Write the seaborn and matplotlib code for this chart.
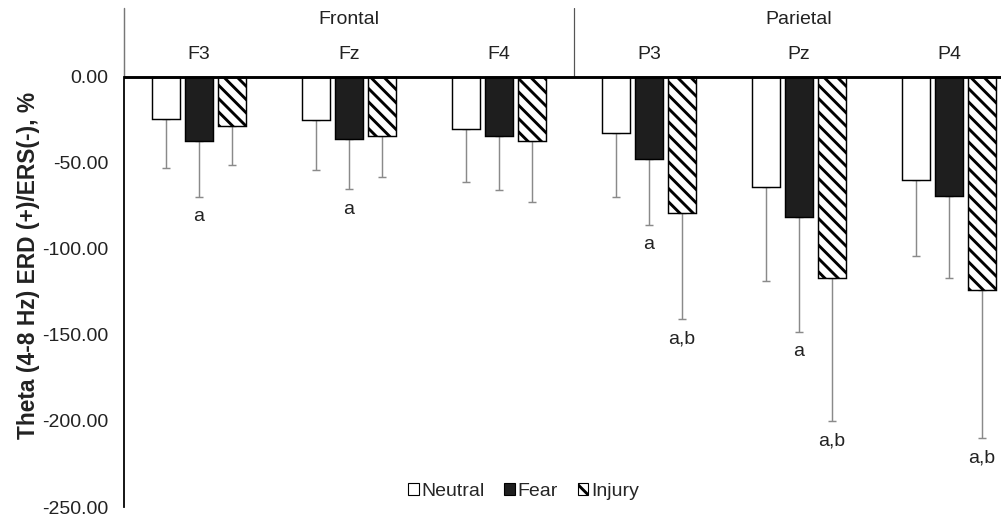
import numpy as np
import pandas as pd
import matplotlib
matplotlib.use("Agg")
import matplotlib.pyplot as plt
import seaborn as sns

sns.set_style("white")
plt.rcParams['font.family'] = ['Liberation Sans', 'DejaVu Sans']
plt.rcParams['hatch.linewidth'] = 2.6

electrodes = ["F3", "Fz", "F4", "P3", "Pz", "P4"]
regions = ["Frontal", "Parietal"]
conditions = ["Neutral", "Fear", "Injury"]

neutral = [-24.4, -25.2, -30.4, -32.7, -64.1, -59.9]
fear = [-37.4, -36.2, -34.5, -47.5, -81.6, -69.2]
injury = [-28.7, -34.3, -37.4, -78.9, -117.0, -123.8]

neutral_sd = [28.3, 29.0, 30.6, 37.3, 54.6, 44.2]
fear_sd = [32.4, 29.0, 31.4, 38.6, 66.5, 47.9]
injury_sd = [22.5, 24.0, 35.3, 61.7, 83.0, 86.3]

neutral_sig = ["", "", "", "", "", ""]
fear_sig = ["a", "a", "", "a", "a", ""]
injury_sig = ["", "", "", "a,b", "a,b", "a,b"]

means = [neutral, fear, injury]
sds = [neutral_sd, fear_sd, injury_sd]
sigs = [neutral_sig, fear_sig, injury_sig]

df = pd.DataFrame({
    "Electrode": electrodes * 3,
    "Condition": np.repeat(conditions, len(electrodes)),
    "Value": neutral + fear + injury,
})

fig = plt.figure(figsize=(12.5125, 6.45), dpi=80)
ax = fig.add_axes([124 / 1001, 9 / 516, 900 / 1001, 499 / 516])

palette = {"Neutral": "white", "Fear": "#1e1e1e", "Injury": "white"}
sns.barplot(data=df, x="Electrode", y="Value", hue="Condition",
            order=electrodes, hue_order=conditions, palette=palette,
            width=0.66, gap=0.18, edgecolor="black", linewidth=1.3,
            errorbar=None, legend=False, ax=ax)

# error bars (downward only) and significance letters
for cont, sd, sig in zip(ax.containers, sds, sigs):
    for bar, s, lab in zip(cont, sd, sig):
        x = bar.get_x() + bar.get_width() / 2
        y = bar.get_y() + bar.get_height()
        ax.errorbar(x, y, yerr=[[s], [0]], color="#8a8a8a", lw=1.3,
                    capsize=3.6, capthick=1.3, zorder=0.5)
        if lab:
            ax.annotate(lab, (x, y - s), xytext=(0, -18), textcoords="offset points",
                        ha="center", va="center", fontsize=17.5, color="#222222")

for bar in ax.containers[2]:
    bar.set_hatch("\\\\")

ax.set_xlim(-0.5, 5.5)
ax.set_ylim(-250, 40)
ax.set_yticks([0, -50, -100, -150, -200, -250])
ax.set_yticklabels([f"{v:.2f}" for v in [0, -50, -100, -150, -200, -250]])
ax.tick_params(axis="y", length=0, pad=14, labelsize=17.5, labelcolor="#222222")
ax.set_xticks([])
ax.set_xlabel("")
for sp in ["top", "right", "bottom"]:
    ax.spines[sp].set_visible(False)
ax.spines["left"].set_bounds(-250, 0)
ax.spines["left"].set_color("black")
ax.spines["left"].set_linewidth(1.6)
ax.plot([-0.5, -0.5], [0, 40], color="#777777", lw=1.3, clip_on=False)
ax.axhline(0, color="black", lw=2.6, zorder=5)
ax.plot([2.5, 2.5], [0, 40], color="#555555", lw=1.1)

for i, e in enumerate(electrodes):
    ax.text(i, 13.2, e, ha="center", va="center", fontsize=17.5, color="#222222")
for i, r in enumerate(regions):
    ax.text(1 + 3 * i, 33.5, r, ha="center", va="center", fontsize=17.5,
            color="#222222")

ax.set_ylabel("Theta (4-8 Hz) ERD (+)/ERS(-), %", fontsize=20.5, fontweight="bold",
              color="#222222")
ax.yaxis.set_label_coords(-0.0933, 0.485)

handles = [plt.Rectangle((0, 0), 1, 1, facecolor=palette[c], edgecolor="black",
                         linewidth=1.0, hatch="\\\\" if c == "Injury" else None)
           for c in conditions]
fig.legend(handles, conditions, loc="center", bbox_to_anchor=(0.523, 0.048),
           ncol=3, frameon=False, fontsize=17.5, handlelength=0.55, handleheight=0.55,
           handletextpad=0.15, columnspacing=1.0, borderpad=0)

fig.savefig("out.png", dpi=80)
